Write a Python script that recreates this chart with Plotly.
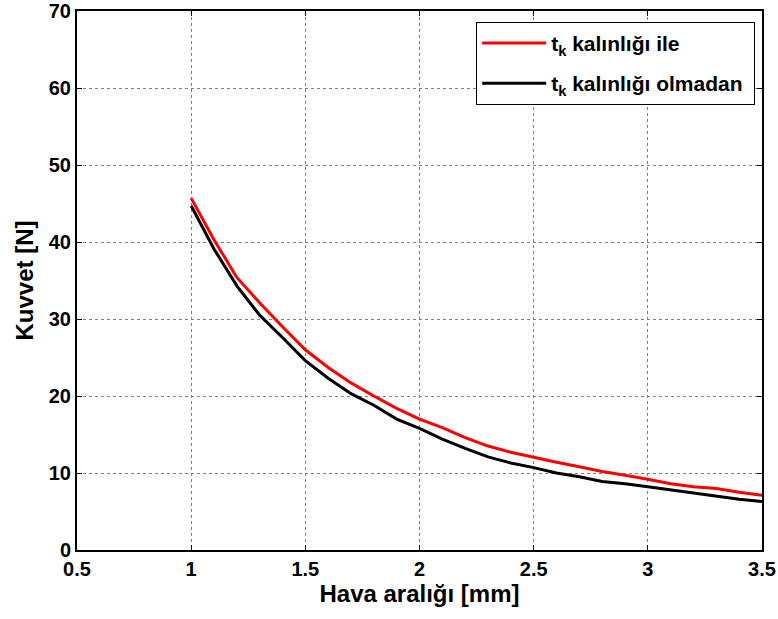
import plotly.graph_objects as go

x_gap = [1.0, 1.1, 1.2, 1.3, 1.4, 1.5, 1.6, 1.7, 1.8, 1.9, 2.0, 2.1, 2.2, 2.3, 2.4,
         2.5, 2.6, 2.7, 2.8, 2.9, 3.0, 3.1, 3.2, 3.3, 3.4, 3.5]
force_with = [45.7, 40.3, 35.4, 32.1, 29.0, 26.0, 23.7, 21.7, 20.0, 18.4, 17.0, 15.9,
              14.6, 13.5, 12.7, 12.0, 11.4, 10.8, 10.2, 9.7, 9.2, 8.6, 8.2, 8.0, 7.5, 7.1]
force_without = [44.7, 39.1, 34.3, 30.5, 27.6, 24.6, 22.3, 20.3, 18.8, 17.0, 15.8, 14.4,
                 13.2, 12.1, 11.3, 10.7, 10.0, 9.5, 8.9, 8.6, 8.2, 7.8, 7.4, 7.0, 6.6, 6.3]

name_with = "<b>t<sub>k</sub> kalınlığı ile</b>"
name_without = "<b>t<sub>k</sub> kalınlığı olmadan</b>&nbsp;"

x_ticks = [0.5, 1, 1.5, 2, 2.5, 3, 3.5]
y_ticks = [0, 10, 20, 30, 40, 50, 60, 70]

fig = go.Figure()
fig.add_trace(go.Scatter(x=x_gap, y=force_with, mode="lines", name=name_with,
                         legendgroup="a",
                         line=dict(color="#ff0000", width=3)))
fig.add_trace(go.Scatter(x=x_gap, y=force_without, mode="lines", name=name_without,
                         legendgroup="b",
                         line=dict(color="#000000", width=3)))

axis_common = dict(
    showline=True, linecolor="black", linewidth=2, mirror="allticks",
    ticks="inside", ticklen=5, tickwidth=1, tickcolor="black",
    showgrid=True, gridcolor="#7f7f7f", griddash="dot", gridwidth=1,
    zeroline=False, automargin=False, ticklabeloverflow="allow",
    tickfont=dict(family="Liberation Sans", size=20, color="black"),
)

fig.update_layout(
    width=778, height=619,
    margin=dict(l=77, r=16, t=11, b=69),
    paper_bgcolor="white", plot_bgcolor="white",
    font=dict(family="Liberation Sans", color="black"),
    xaxis=dict(range=[0.5, 3.5], tickvals=x_ticks,
               ticktext=["<b>%g</b>" % v for v in x_ticks],
               title=dict(text="<b>Hava aralığı [mm]</b>", standoff=6,
                          font=dict(family="Liberation Sans", size=24, color="black")),
               **axis_common),
    yaxis=dict(range=[0, 70], tickvals=y_ticks,
               ticktext=["<b>%g</b>" % v for v in y_ticks],
               title=dict(text="<b>Kuvvet [N]</b>", standoff=8,
                          font=dict(family="Liberation Sans", size=24, color="black")),
               **axis_common),
    legend=dict(x=0.99, y=0.98, xanchor="right", yanchor="top",
                bgcolor="white", bordercolor="black", borderwidth=1,
                font=dict(family="Liberation Sans", size=21, color="black"),
                itemwidth=64, tracegroupgap=10),
    showlegend=True,
)

fig.write_html("out.html", config={"displayModeBar": False},
               post_script="document.body.style.margin='0';")
